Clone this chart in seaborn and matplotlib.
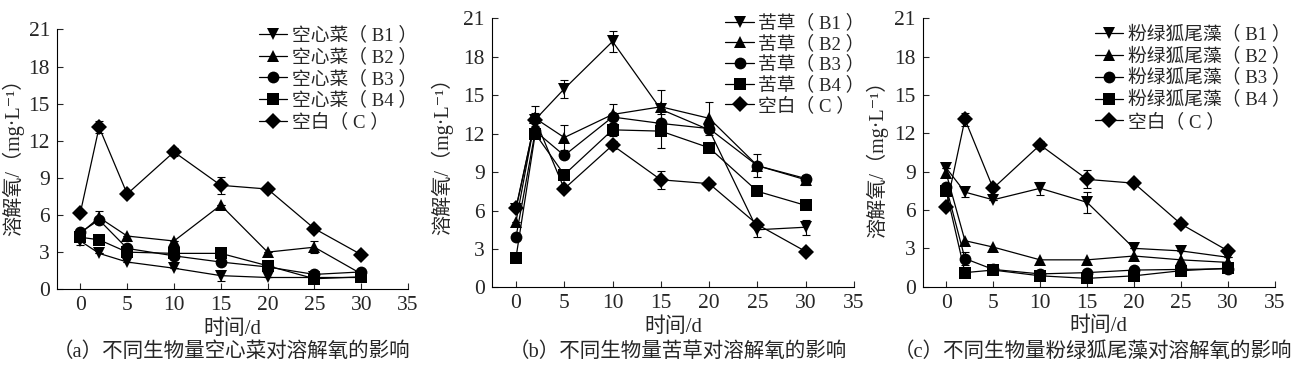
import pandas as pd
import matplotlib
matplotlib.use("Agg")
import matplotlib.pyplot as plt
import seaborn as sns

# ---------------- data ----------------
days = [0, 2, 5, 10, 15, 20, 25, 30]
series = ["B1", "B2", "B3", "B4", "C"]

blank_c = [6.2, 13.1, 7.7, 11.1, 8.4, 8.1, 4.9, 2.8]
blank_c_err = [0.0, 0.5, 0.0, 0.3, 0.7, 0.0, 0.0, 0.0]

# (a) 空心菜
kxc_b1 = [3.9, 2.9, 2.2, 1.7, 1.1, 0.95, 0.95, 0.95]
kxc_b2 = [4.5, 5.8, 4.3, 3.9, 6.8, 3.0, 3.4, 1.25]
kxc_b3 = [4.6, 5.6, 3.3, 2.7, 2.2, 1.8, 1.2, 1.4]
kxc_b4 = [4.2, 4.0, 3.0, 2.9, 2.9, 1.9, 0.85, 1.0]
kxc_b1_err = [0.3, 0.0, 0.0, 0.0, 0.4, 0.0, 0.0, 0.0]
kxc_b2_err = [0.0, 0.5, 0.0, 0.0, 0.0, 0.0, 0.5, 0.0]

# (b) 苦草
kc_b1 = [6.1, 13.1, 15.5, 19.2, 13.9, 12.3, 4.5, 4.7]
kc_b2 = [5.1, 13.2, 11.7, 13.5, 14.1, 13.2, 9.5, 8.4]
kc_b3 = [3.9, 12.2, 10.3, 13.3, 12.8, 12.4, 9.5, 8.5]
kc_b4 = [2.3, 12.0, 8.8, 12.3, 12.2, 10.9, 7.5, 6.4]
kc_b1_err = [0.0, 0.0, 0.7, 0.8, 0.0, 0.0, 0.6, 0.6]
kc_b2_err = [0.0, 1.0, 1.0, 0.8, 1.3, 1.3, 0.9, 0.4]
kc_b4_err = [0.0, 0.0, 0.0, 0.5, 1.3, 0.0, 0.0, 0.0]

# (c) 粉绿狐尾藻
fl_b1 = [9.3, 7.4, 6.8, 7.7, 6.6, 3.0, 2.8, 2.3]
fl_b2 = [8.9, 3.6, 3.1, 2.1, 2.1, 2.4, 2.1, 1.9]
fl_b3 = [7.8, 2.2, 1.35, 1.0, 1.1, 1.3, 1.35, 1.4]
fl_b4 = [7.5, 1.1, 1.3, 0.85, 0.65, 0.85, 1.25, 1.45]
fl_b1_err = [0.0, 0.4, 0.0, 0.5, 0.8, 0.0, 0.0, 0.0]
fl_b3_err = [0.0, 0.5, 0.0, 0.0, 0.0, 0.0, 0.0, 0.0]

names = ["空心菜", "苦草", "粉绿狐尾藻"]
captions = ["（a）不同生物量空心菜对溶解氧的影响",
            "（b）不同生物量苦草对溶解氧的影响",
            "（c）不同生物量粉绿狐尾藻对溶解氧的影响"]

panels = [
    [kxc_b1, kxc_b2, kxc_b3, kxc_b4, blank_c],
    [kc_b1, kc_b2, kc_b3, kc_b4, blank_c],
    [fl_b1, fl_b2, fl_b3, fl_b4, blank_c],
]
errors = [
    {"B1": kxc_b1_err, "B2": kxc_b2_err, "C": blank_c_err},
    {"B1": kc_b1_err, "B2": kc_b2_err, "B4": kc_b4_err, "C": blank_c_err},
    {"B1": fl_b1_err, "B3": fl_b3_err, "C": blank_c_err},
]

# ---------------- style ----------------
sns.set_theme(style="ticks")
plt.rcParams['font.family'] = ['Liberation Serif', 'Noto Sans CJK SC', 'DejaVu Serif']
plt.rcParams['axes.unicode_minus'] = False
plt.rcParams['font.size'] = 14

markers = {"B1": "v", "B2": "^", "B3": "o", "B4": "s", "C": "D"}
msizes = {"B1": 9, "B2": 9, "B3": 8.5, "B4": 8, "C": 8}

fig = plt.figure(figsize=(13.01, 3.68), dpi=100)
rects = [
    [0.0438, 0.214, 0.2698, 0.706],
    [0.378, 0.219, 0.2785, 0.731],
    [0.7092, 0.221, 0.2708, 0.729],
]
# legend anchor (upper-left corner, axes fraction) and row spacing per panel
leg_anchor = [(0.575, 1.01), (0.645, 1.015), (0.49, 0.972)]
leg_space = [0.2, 0.15, 0.2]
ylab_pos = [(-0.092, 0.526), (-0.107, 0.507), (-0.098, 0.494)]
cap_x = [231.5, 677.5, 1093]

for i, rect in enumerate(rects):
    ax = fig.add_axes(rect)
    rows = []
    for s, vals in zip(series, panels[i]):
        lab = "空白（ C ）" if s == "C" else f"{names[i]}（ {s} ）"
        for d, v in zip(days, vals):
            rows.append({"day": d, "do": v, "group": lab, "key": s})
    df = pd.DataFrame(rows)
    labels = list(dict.fromkeys(df["group"]))

    # error bars first so markers sit on top
    for s, err in errors[i].items():
        sub = df[df["key"] == s]
        ax.errorbar(sub["day"], sub["do"], yerr=err, fmt="none", ecolor="black",
                    elinewidth=0.8, capsize=3, capthick=0.8, zorder=1)

    for s, lab in zip(series, labels):
        sub = df[df["group"] == lab]
        sns.lineplot(data=sub, x="day", y="do", ax=ax, color="black", linewidth=0.9,
                     marker=markers[s], markersize=msizes[s], markeredgewidth=0,
                     label=lab, zorder=2)

    ax.set_xlim(-2.5, 35)
    ax.set_ylim(0, 21)
    ax.set_xticks(range(0, 36, 5))
    ax.set_yticks(range(0, 22, 3))
    ax.tick_params(direction="in", length=4, width=0.8, labelsize=15.5, pad=5)
    for sp in ["top", "right"]:
        ax.spines[sp].set_visible(False)
    for sp in ["left", "bottom"]:
        ax.spines[sp].set_linewidth(0.8)
        ax.spines[sp].set_color("black")
    ax.set_xlabel("时间/d", fontsize=15, labelpad=3)
    ax.set_ylabel("溶解氧/（mg·L⁻¹）", fontsize=14.5)
    ax.yaxis.set_label_coords(*ylab_pos[i])

    ax.legend(loc="upper left", bbox_to_anchor=leg_anchor[i], frameon=False,
              fontsize=13.5, handlelength=1.5, handletextpad=0.25,
              labelspacing=leg_space[i], borderaxespad=0, borderpad=0)

    fig.text(cap_x[i] / 1301, 0.043, captions[i], ha="center", va="center",
             fontsize=14.8)

fig.savefig("out.png", dpi=100)
